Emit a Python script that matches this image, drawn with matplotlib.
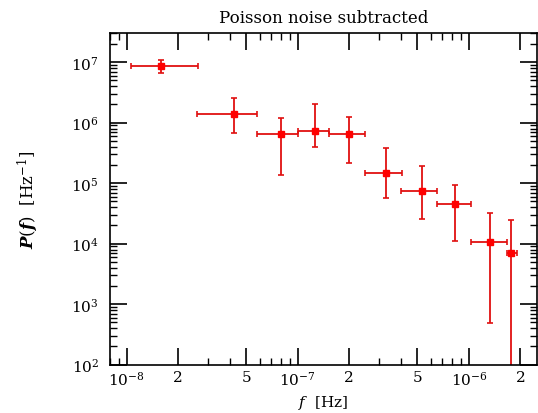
import numpy as np
import matplotlib
matplotlib.use('Agg')
import matplotlib.pyplot as plt
from matplotlib.ticker import FixedLocator, FixedFormatter, NullFormatter

# bin centres and edges in frequency (Hz)
freq = [1.58e-8, 4.23e-8, 7.94e-8, 1.265e-7, 2.0e-7, 3.28e-7, 5.30e-7, 8.32e-7, 1.33e-6, 1.77e-6]
freq_lo = [1.065e-8, 2.58e-8, 5.78e-8, 1.0e-7, 1.53e-7, 2.48e-7, 4.01e-7, 6.49e-7, 1.03e-6, 1.68e-6]
freq_hi = [2.6e-8, 5.78e-8, 1.0e-7, 1.53e-7, 2.48e-7, 4.06e-7, 6.5e-7, 1.03e-6, 1.66e-6, 1.91e-6]

# power and its error range (Hz^-1)
power = [8.8e6, 1.38e6, 6.58e5, 7.38e5, 6.5e5, 1.50e5, 7.46e4, 4.45e4, 1.06e4, 7.05e3]
power_lo = [6.6e6, 6.68e5, 1.36e5, 3.97e5, 2.13e5, 5.59e4, 2.57e4, 1.10e4, 486, 1.0]
power_hi = [1.08e7, 2.53e6, 1.21e6, 2.01e6, 1.24e6, 3.75e5, 1.93e5, 9.37e4, 3.23e4, 2.47e4]

x_major = [1e-8, 2e-8, 5e-8, 1e-7, 2e-7, 5e-7, 1e-6, 2e-6]
x_labels = [r'$10^{-8}$', '2', '5', r'$10^{-7}$', '2', '5', r'$10^{-6}$', '2']

plt.rcParams['font.family'] = 'DejaVu Serif'
plt.rcParams['mathtext.fontset'] = 'dejavuserif'

fig = plt.figure(figsize=(5.38, 4.14), dpi=100)
ax = fig.add_axes([110/538, 1 - 365.7/414, 427/538, (365.7 - 34.3)/414])

f = np.array(freq)
p = np.array(power)
xerr = [f - np.array(freq_lo), np.array(freq_hi) - f]
yerr = [p - np.array(power_lo), np.array(power_hi) - p]
ax.errorbar(f, p, xerr=xerr, yerr=yerr, fmt='s', color='#ff0000', ecolor='#e01010',
            markersize=5, elinewidth=1.3, capsize=2.5, capthick=1.2)

ax.set_xscale('log')
ax.set_yscale('log')
ax.set_xlim(8e-9, 2.5e-6)
ax.set_ylim(1e2, 3e7)

ax.xaxis.set_major_locator(FixedLocator(x_major))
ax.xaxis.set_major_formatter(FixedFormatter(x_labels))
x_minor = [m * 10.0**e for e in (-9, -8, -7, -6) for m in (3, 4, 6, 7, 8, 9)]
ax.xaxis.set_minor_locator(FixedLocator(x_minor))
ax.xaxis.set_minor_formatter(NullFormatter())

ax.yaxis.set_major_locator(FixedLocator([1e2, 1e3, 1e4, 1e5, 1e6, 1e7]))
ax.yaxis.set_major_formatter(FixedFormatter([r'$10^{%d}$' % n for n in range(2, 8)]))
y_minor = [m * 10.0**e for e in range(2, 8) for m in range(2, 10)]
ax.yaxis.set_minor_locator(FixedLocator(y_minor))
ax.yaxis.set_minor_formatter(NullFormatter())

ax.tick_params(which='both', direction='in', top=True, right=True, labelsize=11)
ax.tick_params(which='major', length=12, width=1.2)
ax.tick_params(which='minor', length=5, width=1)
ax.tick_params(axis='x', pad=4)
ax.tick_params(axis='y', pad=8)
for s in ax.spines.values():
    s.set_linewidth(1.2)

ax.set_title('Poisson noise subtracted', fontsize=12, pad=8)
ax.set_xlabel(r'$f$  [Hz]', fontsize=11)
ax.xaxis.set_label_coords(0.5, -0.085)
ax.set_ylabel(r'$\mathbfit{P}(\mathbfit{f})$  [Hz$^{-1}$]', fontsize=12)
ax.yaxis.set_label_coords(-0.162, 0.5)

fig.savefig('out.png', dpi=100)
